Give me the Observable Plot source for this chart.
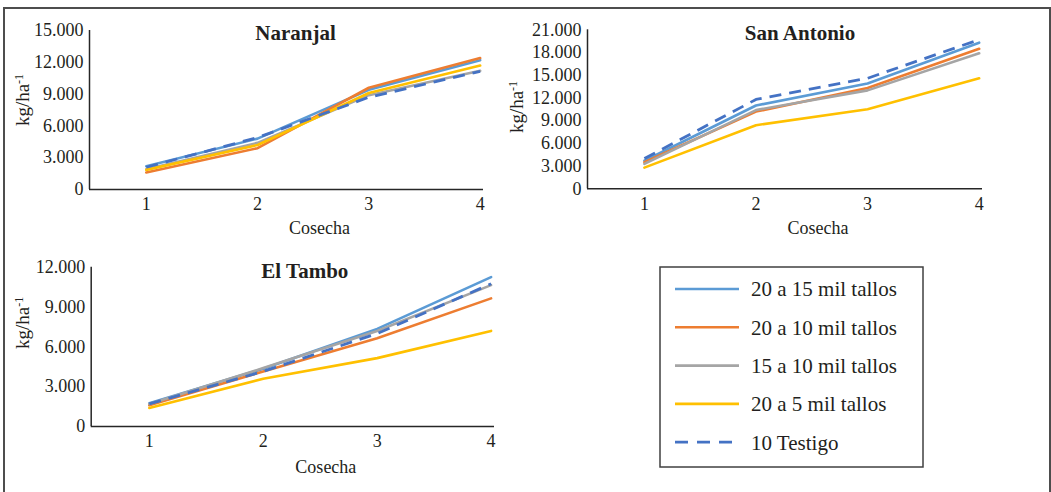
<!DOCTYPE html>
<html>
<head>
<meta charset="utf-8">
<script src="https://cdn.jsdelivr.net/npm/d3@7"></script>
<script src="https://cdn.jsdelivr.net/npm/@observablehq/plot@0.6"></script>
<style>
html, body { margin: 0; padding: 0; background: #fff; }
#root { position: relative; width: 1051px; height: 492px; overflow: hidden; font-family: "Liberation Serif", "Times New Roman", serif; color: #231f20; }
.outer { position: absolute; left: 3px; top: 7px; width: 1044px; height: 500px; border: 2px solid #4d4d4d; }
.panel { position: absolute; }
#legend { position: absolute; left: 659px; top: 266px; }
</style>
</head>
<body>
<div id="root"><div class="outer"></div></div>
<script>
// ---- data ----
const cosecha = [1, 2, 3, 4];
const series = ["20 a 15 mil tallos", "20 a 10 mil tallos", "15 a 10 mil tallos", "20 a 5 mil tallos", "10 Testigo"];
const colors = ["#5B9BD5", "#ED7D31", "#A5A5A5", "#FFC000", "#4472C4"];

// rows follow the order of `series`
const naranjal = [
  [2200, 4800, 9400, 12200],
  [1600, 3900, 9600, 12400],
  [1900, 4400, 8900, 11200],
  [1850, 4200, 9100, 11700],
  [2100, 4900, 8700, 11150]
];
const sanAntonio = [
  [3700, 11000, 13900, 19300],
  [3500, 10200, 13300, 18500],
  [3300, 10400, 13000, 17900],
  [2800, 8400, 10500, 14600],
  [4000, 11800, 14600, 19700]
];
const elTambo = [
  [1750, 4350, 7350, 11250],
  [1600, 4150, 6650, 9650],
  [1700, 4400, 7200, 10650],
  [1400, 3600, 5150, 7200],
  [1700, 4150, 7000, 10750]
];
const naranjalTicks = [0, 3000, 6000, 9000, 12000, 15000];
const sanAntonioTicks = [0, 3000, 6000, 9000, 12000, 15000, 18000, 21000];
const elTamboTicks = [0, 3000, 6000, 9000, 12000];

// ---- styling ----
const xDomain = [0.49, 4.03];
const axisColor = "#262626";
const textColor = "#231f20";
const fmt = d3.formatLocale({decimal: ",", thousands: ".", grouping: [3], currency: ["", ""]}).format(",");

function panel(cfg) {
  const rows = [];
  cfg.values.forEach((vals, s) => vals.forEach((v, j) => rows.push({cosecha: cosecha[j], value: v, serie: series[s], s})));
  const marks = [
    Plot.ruleY([0], {stroke: axisColor, strokeWidth: 1.5}),
    Plot.ruleX([xDomain[0]], {stroke: axisColor, strokeWidth: 1.5}),
    Plot.axisY({ticks: cfg.ticks, tickSize: 0, tickPadding: 6, tickFormat: fmt, fontSize: 18, label: null}),
    Plot.axisX({ticks: cosecha, tickSize: 0, tickPadding: 8, tickFormat: d => String(d), fontSize: 18, label: null})
  ];
  series.forEach((name, s) => {
    marks.push(Plot.line(rows.filter(d => d.s === s), {
      x: "cosecha", y: "value",
      stroke: colors[s], strokeWidth: s === 4 ? 2.8 : 2.6,
      strokeDasharray: s === 4 ? "12,8" : undefined,
      strokeLinejoin: "round", strokeLinecap: s === 4 ? "butt" : "round"
    }));
  });
  marks.push(Plot.text([cfg.title], {text: d => d, frameAnchor: "top", dx: cfg.titleDx, dy: cfg.titleDy, fontSize: 21, fontWeight: "bold", lineAnchor: "middle", fill: textColor}));
  marks.push(Plot.text(["Cosecha"], {text: d => d, frameAnchor: "bottom", dx: 33, dy: cfg.xlabDy, fontSize: 18, lineAnchor: "middle", fill: textColor}));
  marks.push(Plot.text(["kg/ha-1"], {text: d => d, frameAnchor: "left", textAnchor: "middle", rotate: -90, dx: cfg.ylabDx, dy: cfg.ylabDy, fontSize: 19, lineAnchor: "middle", fill: textColor}));

  const svg = Plot.plot({
    width: cfg.width, height: cfg.height,
    marginLeft: cfg.ml, marginRight: cfg.mr, marginTop: cfg.mt, marginBottom: cfg.mb,
    x: {type: "linear", domain: xDomain},
    y: {domain: [0, cfg.yMax]},
    style: {fontFamily: '"Liberation Serif", "Times New Roman", serif', fontSize: "18px", color: textColor, background: "transparent", overflow: "visible"},
    marks
  });
  d3.select(svg).selectAll("text").filter(function() { return this.textContent === "kg/ha-1"; }).each(function() {
    const t = d3.select(this);
    t.text(null).attr("font-size", 19).attr("text-anchor", "middle");
    t.append("tspan").style("font-size", "19px").text("kg/ha");
    t.append("tspan").attr("dy", "-0.5em").style("font-size", "12px").text("-1");
  });
  const wrap = document.createElement("div");
  wrap.className = "panel";
  wrap.style.left = cfg.left + "px";
  wrap.style.top = cfg.top + "px";
  wrap.appendChild(svg);
  document.getElementById("root").appendChild(wrap);
}

panel({title: "Naranjal", values: naranjal, ticks: naranjalTicks, yMax: 15000,
  left: 0, top: 0, width: 500, height: 240, ml: 89, mr: 17, mt: 30, mb: 51,
  titleDx: 9, titleDy: 2.5, xlabDy: 39, ylabDx: -66.5, ylabDy: -10});
panel({title: "San Antonio", values: sanAntonio, ticks: sanAntonioTicks, yMax: 21000,
  left: 500, top: 0, width: 551, height: 240, ml: 87, mr: 69, mt: 29.3, mb: 51.7,
  titleDx: 15, titleDy: 3.2, xlabDy: 39.2, ylabDx: -70.5, ylabDy: -2.3});
panel({title: "El Tambo", values: elTambo, ticks: elTamboTicks, yMax: 12000,
  left: 0, top: 240, width: 520, height: 250, ml: 90.7, mr: 26, mt: 26.7, mb: 64,
  titleDx: 12, titleDy: 3.8, xlabDy: 40.7, ylabDx: -68, ylabDy: -24});

// ---- legend ----
const lw = 265, lh = 202;
const leg = d3.select("#root").append("svg").attr("id", "legend").attr("width", lw).attr("height", lh);
leg.append("rect").attr("x", 1).attr("y", 1).attr("width", lw - 2).attr("height", lh - 2)
  .attr("fill", "#fff").attr("stroke", "#404040").attr("stroke-width", 1.5);
series.forEach((name, i) => {
  const y = 23 + i * 38.3;
  leg.append("line").attr("x1", 16).attr("x2", 80).attr("y1", y).attr("y2", y)
    .attr("stroke", colors[i]).attr("stroke-width", i === 4 ? 2.8 : 2.6)
    .attr("stroke-dasharray", i === 4 ? "13,9" : null);
  leg.append("text").attr("x", 92).attr("y", y).attr("dy", "0.35em")
    .attr("font-family", '"Liberation Serif", "Times New Roman", serif').attr("font-size", 21)
    .attr("fill", textColor).text(name);
});
</script>
</body>
</html>
